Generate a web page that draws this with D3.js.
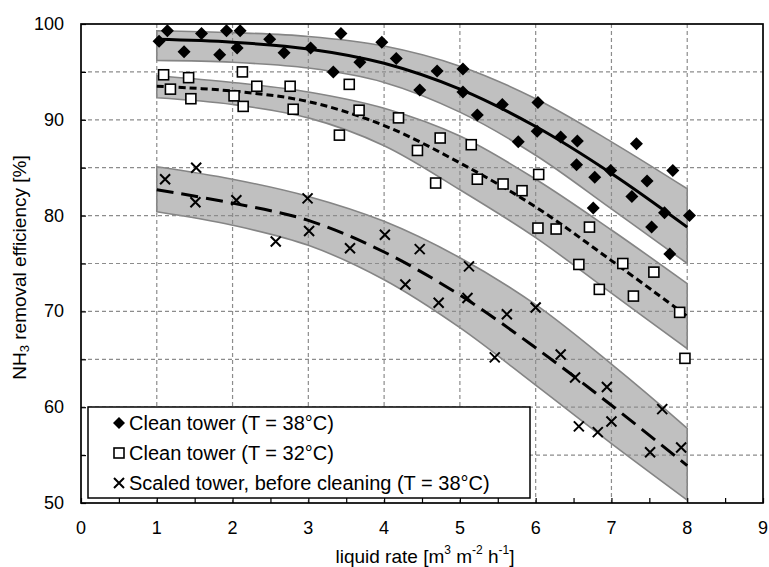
<!DOCTYPE html>
<html>
<head>
<meta charset="utf-8">
<script src="https://cdn.jsdelivr.net/npm/d3@7"></script>
<style>
  html, body { margin: 0; padding: 0; background: #fff; }
  svg { display: block; }
  text { font-family: "Liberation Sans", Arial, sans-serif; fill: #000; }
</style>
</head>
<body>
<svg id="chart" width="769" height="567"></svg>
<script>
// ---------- data ----------
const xTickValues = [0, 1, 2, 3, 4, 5, 6, 7, 8, 9];
const yTickValues = [50, 60, 70, 80, 90, 100];
const xGridValues = [1, 2, 3, 4, 5, 6, 7, 8];
const yGridValues = [55, 60, 65, 70, 75, 80, 85, 90, 95];

const legendLabels = [
  "Clean tower (T = 38°C)",
  "Clean tower (T = 32°C)",
  "Scaled tower, before cleaning (T = 38°C)"
];

// measured points
const clean38X = [1.03,1.14,1.36,1.59,1.83,1.92,2.06,2.10,2.49,2.68,3.03,3.33,3.43,3.68,3.97,4.16,4.47,4.70,5.04,5.04,5.23,5.56,5.77,6.02,6.03,6.33,6.54,6.55,6.76,6.78,6.99,7.27,7.33,7.47,7.53,7.70,7.77,7.81,8.03];
const clean38Y = [98.2,99.3,97.1,99.0,96.8,99.3,97.5,99.3,98.4,97.0,97.5,95.0,99.0,96.0,98.1,96.4,93.1,95.1,95.3,92.9,90.5,91.6,87.7,88.8,91.8,88.2,85.3,87.8,80.8,84.0,84.7,82.0,87.5,83.6,78.8,80.3,76.0,84.7,80.0];

const clean32X = [1.09,1.18,1.42,1.45,2.02,2.13,2.14,2.32,2.76,2.80,3.41,3.54,3.67,4.19,4.44,4.68,4.74,5.15,5.23,5.57,5.82,6.03,6.04,6.27,6.57,6.71,6.84,7.15,7.29,7.56,7.90,7.97];
const clean32Y = [94.7,93.2,94.4,92.2,92.5,95.0,91.4,93.5,93.5,91.1,88.4,93.7,91.0,90.2,86.8,83.4,88.1,87.4,83.8,83.3,82.6,78.7,84.3,78.6,74.9,78.8,72.3,75.0,71.6,74.1,69.9,65.1];

const scaledX = [1.11,1.51,1.52,2.05,2.57,2.99,3.01,3.55,4.01,4.28,4.47,4.72,5.10,5.12,5.46,5.62,6.00,6.33,6.52,6.57,6.82,6.94,7.00,7.51,7.67,7.92];
const scaledY = [83.8,81.4,85.0,81.6,77.3,81.8,78.4,76.6,78.0,72.8,76.5,70.9,71.4,74.7,65.2,69.7,70.4,65.5,63.1,58.0,57.4,62.1,58.5,55.3,59.8,55.8];

// fitted curves and bands
const fitX = [1, 2, 3, 4, 5, 6, 7, 8];
const clean38Fit   = [98.4, 98.1, 97.4, 95.9, 93.2, 89.3, 84.4, 78.8];
const clean38Upper = [99.3, 99.1, 98.7, 97.7, 95.6, 92.2, 87.7, 82.8];
const clean38Lower = [96.2, 96.0, 95.4, 93.9, 90.8, 86.3, 80.7, 75.0];

const clean32Fit   = [93.5, 93.0, 91.9, 89.4, 85.5, 80.9, 75.3, 69.5];
const clean32Upper = [94.6, 93.9, 92.9, 91.2, 88.3, 83.8, 78.5, 72.9];
const clean32Lower = [92.3, 91.6, 90.2, 87.3, 82.7, 77.7, 71.9, 66.1];

const scaledFit   = [82.7, 81.3, 79.5, 76.2, 71.7, 66.2, 60.2, 53.9];
const scaledUpper = [85.1, 83.8, 82.0, 79.4, 75.6, 70.7, 64.5, 57.8];
const scaledLower = [80.4, 79.0, 76.9, 73.3, 68.3, 62.3, 56.2, 50.3];

// ---------- layout ----------
const svg = d3.select("#chart");
const L = 81, R = 763, T = 24, B = 503;
const x = d3.scaleLinear().domain([0, 9]).range([L, R]);
const y = d3.scaleLinear().domain([50, 100]).range([B, T]);

const zipPts = (xs, ys) => xs.map((v, i) => [v, ys[i]]);

// ---------- bands ----------
const area = d3.area()
  .x(d => x(d[0])).y0(d => y(d[1])).y1(d => y(d[2]))
  .curve(d3.curveCatmullRom);
const bands = [
  [clean38Upper, clean38Lower],
  [clean32Upper, clean32Lower],
  [scaledUpper, scaledLower]
];
bands.forEach(([up, lo]) => {
  const data = fitX.map((v, i) => [v, lo[i], up[i]]);
  svg.append("path").attr("d", area(data))
    .attr("fill", "#c0c0c0").attr("stroke", "#858585").attr("stroke-width", 1.6);
});

// ---------- grid ----------
const grid = svg.append("g").attr("stroke", "#8c8c8c").attr("stroke-width", 1.2)
  .attr("stroke-dasharray", "4,3").attr("fill", "none");
xGridValues.forEach(v => grid.append("line")
  .attr("x1", x(v)).attr("x2", x(v)).attr("y1", T).attr("y2", B));
yGridValues.forEach(v => grid.append("line")
  .attr("x1", L).attr("x2", R).attr("y1", y(v)).attr("y2", y(v)));

// ---------- fit lines ----------
const line = d3.line().x(d => x(d[0])).y(d => y(d[1])).curve(d3.curveCatmullRom);
svg.append("path").attr("d", line(zipPts(fitX, clean38Fit)))
  .attr("fill", "none").attr("stroke", "#000").attr("stroke-width", 3);
svg.append("path").attr("d", line(zipPts(fitX, clean32Fit)))
  .attr("fill", "none").attr("stroke", "#000").attr("stroke-width", 3)
  .attr("stroke-dasharray", "7,4");
svg.append("path").attr("d", line(zipPts(fitX, scaledFit)))
  .attr("fill", "none").attr("stroke", "#000").attr("stroke-width", 3)
  .attr("stroke-dasharray", "17,8");

// ---------- markers ----------
function diamond(g, cx, cy, r) {
  g.append("path").attr("d", `M${cx},${cy - r}L${cx + r},${cy}L${cx},${cy + r}L${cx - r},${cy}Z`)
    .attr("fill", "#000");
}
function square(g, cx, cy, s) {
  g.append("rect").attr("x", cx - s / 2).attr("y", cy - s / 2).attr("width", s).attr("height", s)
    .attr("fill", "#fff").attr("stroke", "#000").attr("stroke-width", 1.6);
}
function cross(g, cx, cy, r) {
  g.append("path").attr("d", `M${cx - r},${cy - r}L${cx + r},${cy + r}M${cx - r},${cy + r}L${cx + r},${cy - r}`)
    .attr("stroke", "#000").attr("stroke-width", 2).attr("fill", "none");
}
const mk = svg.append("g");
zipPts(scaledX, scaledY).forEach(p => cross(mk, x(p[0]), y(p[1]), 5));
zipPts(clean32X, clean32Y).forEach(p => square(mk, x(p[0]), y(p[1]), 10));
zipPts(clean38X, clean38Y).forEach(p => diamond(mk, x(p[0]), y(p[1]), 6.5));

// ---------- frame & ticks ----------
svg.append("rect").attr("x", L).attr("y", T).attr("width", R - L).attr("height", B - T)
  .attr("fill", "none").attr("stroke", "#000").attr("stroke-width", 1.7);

const xAxis = d3.axisBottom(x).tickValues(d3.range(0, 9.01, 0.5)).tickSize(-5).tickFormat("");
svg.append("g").attr("transform", `translate(0,${B})`).call(xAxis)
  .call(g => g.select(".domain").remove())
  .call(g => g.selectAll("line").attr("stroke", "#000").attr("stroke-width", 1.2));
const yAxis = d3.axisLeft(y).tickValues(d3.range(50, 100.01, 5)).tickSize(-5).tickFormat("");
svg.append("g").attr("transform", `translate(${L},0)`).call(yAxis)
  .call(g => g.select(".domain").remove())
  .call(g => g.selectAll("line").attr("stroke", "#000").attr("stroke-width", 1.2));

// tick labels
svg.append("g").selectAll("text").data(xTickValues).join("text")
  .attr("x", d => x(d)).attr("y", B + 25)
  .attr("text-anchor", "middle").attr("dominant-baseline", "central")
  .attr("font-size", 18).text(d => d);
svg.append("g").selectAll("text").data(yTickValues).join("text")
  .attr("x", L - 17).attr("y", d => y(d))
  .attr("text-anchor", "end").attr("dominant-baseline", "central")
  .attr("font-size", 18).text(d => d);

// axis titles
const xt = svg.append("text").attr("x", (L + R) / 2 + 3).attr("y", 556)
  .attr("text-anchor", "middle").attr("dominant-baseline", "central").attr("font-size", 19);
xt.append("tspan").text("liquid rate [m");
xt.append("tspan").attr("font-size", 12).attr("dy", -6).text("3");
xt.append("tspan").attr("dy", 6).text(" m");
xt.append("tspan").attr("font-size", 12).attr("dy", -6).text("-2");
xt.append("tspan").attr("dy", 6).text(" h");
xt.append("tspan").attr("font-size", 12).attr("dy", -6).text("-1");
xt.append("tspan").attr("dy", 6).text("]");

const yt = svg.append("text")
  .attr("transform", `translate(19,${(T + B) / 2 + 4}) rotate(-90)`)
  .attr("text-anchor", "middle").attr("dominant-baseline", "central").attr("font-size", 19);
yt.append("tspan").text("NH");
yt.append("tspan").attr("font-size", 13).attr("dy", 5).text("3");
yt.append("tspan").attr("dy", -5).text(" removal efficiency [%]");

// ---------- legend ----------
const lg = svg.append("g");
lg.append("rect").attr("x", 88).attr("y", 407).attr("width", 442).attr("height", 91)
  .attr("fill", "#fff").attr("stroke", "#000").attr("stroke-width", 1.5);
const rowY = [423, 453, 483];
diamond(lg, 119, rowY[0], 6);
square(lg, 119, rowY[1], 10);
cross(lg, 119, rowY[2], 5);
legendLabels.forEach((t, i) => lg.append("text")
  .attr("x", 129).attr("y", rowY[i]).attr("dominant-baseline", "central")
  .attr("font-size", 20).text(t));
</script>
</body>
</html>
